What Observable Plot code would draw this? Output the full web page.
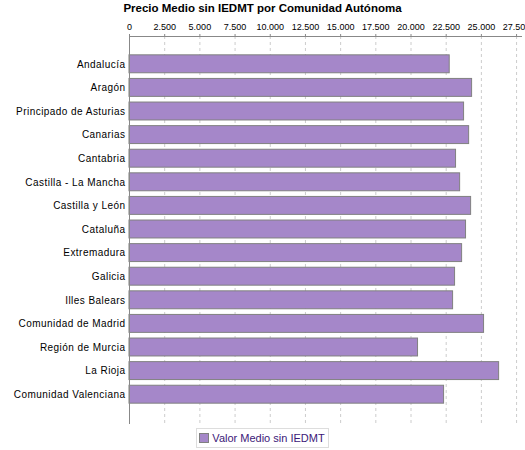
<!DOCTYPE html>
<html>
<head>
<meta charset="utf-8">
<script src="https://cdn.jsdelivr.net/npm/d3@7"></script>
<script src="https://cdn.jsdelivr.net/npm/@observablehq/plot@0.6"></script>
<style>
  body { margin: 0; background: #fff; font-family: "Liberation Sans", Arial, sans-serif; }
  #wrap { width: 525px; }
  #titulo { height: 16px; line-height: 16px; text-align: center; font-weight: bold; font-size: 11.5px; color: #000; }
  #chart svg { display: block; }
  #chart g[aria-label="y-axis tick label"] text { letter-spacing: 0.45px; }
  #leyenda { text-align: center; margin-top: 2px; }
  #leyenda .caja { display: inline-flex; align-items: center; gap: 3px; border: 1px solid #ddd; padding: 0 3px 0 2px; height: 18px; font-size: 11px; color: #3c1878; }
  #leyenda .muestra { width: 8px; height: 8px; background: #a587c9; border: 1px solid #808080; }
</style>
</head>
<body>
<div id="wrap">
  <div id="titulo">Precio Medio sin IEDMT por Comunidad Autónoma</div>
  <div id="chart"></div>
  <div id="leyenda"><span class="caja"><span class="muestra"></span>Valor Medio sin IEDMT</span></div>
</div>
<script>
const comunidades = [
  'Andalucía', 'Aragón', 'Principado de Asturias', 'Canarias', 'Cantabria',
  'Castilla - La Mancha', 'Castilla y León', 'Cataluña', 'Extremadura', 'Galicia',
  'Illes Balears', 'Comunidad de Madrid', 'Región de Murcia', 'La Rioja', 'Comunidad Valenciana'
]
const valorMedio = [
  22750, 24340, 23770, 24130, 23200,
  23490, 24270, 23910, 23630, 23130,
  22990, 25190, 20500, 26260, 22350
]
const ticksX = [0, 2500, 5000, 7500, 10000, 12500, 15000, 17500, 20000, 22500, 25000, 27500]

const datos = comunidades.map((c, i) => ({ comunidad: c, valor: valorMedio[i] }))
const formato = d => d3.format(',')(d).replace(/,/g, '.')

let chart = Plot.plot({
  width: 525,
  height: 410,
  marginTop: 20,
  marginBottom: 3,
  marginLeft: 129,
  marginRight: 4,
  style: { fontFamily: '"Liberation Sans", Arial, sans-serif', fontSize: '10px', color: '#000' },
  x: { domain: [0, 27850] },
  y: { domain: comunidades, paddingInner: 0.24, paddingOuter: 0.12, insetTop: 16, insetBottom: 17, round: false },
  marks: [
    Plot.gridX(ticksX.slice(1), { stroke: '#ccc', strokeOpacity: 1, strokeDasharray: '3,3' }),
    Plot.barX(datos, { x: 'valor', y: 'comunidad', fill: '#a587c9', stroke: '#808080', strokeWidth: 1 }),
    Plot.axisX(ticksX, { anchor: 'top', tickFormat: formato, tickSize: 3, tickPadding: 4, stroke: '#888', fontSize: 9, label: null }),
    Plot.axisY({ anchor: 'left', tickSize: 0, tickPadding: 4, fontSize: 10, label: null }),
    Plot.frame({ anchor: 'top', stroke: '#888' }),
    Plot.frame({ anchor: 'left', stroke: '#888' }),
  ],
})

d3.select('#chart').append(() => chart)
</script>
</body>
</html>
